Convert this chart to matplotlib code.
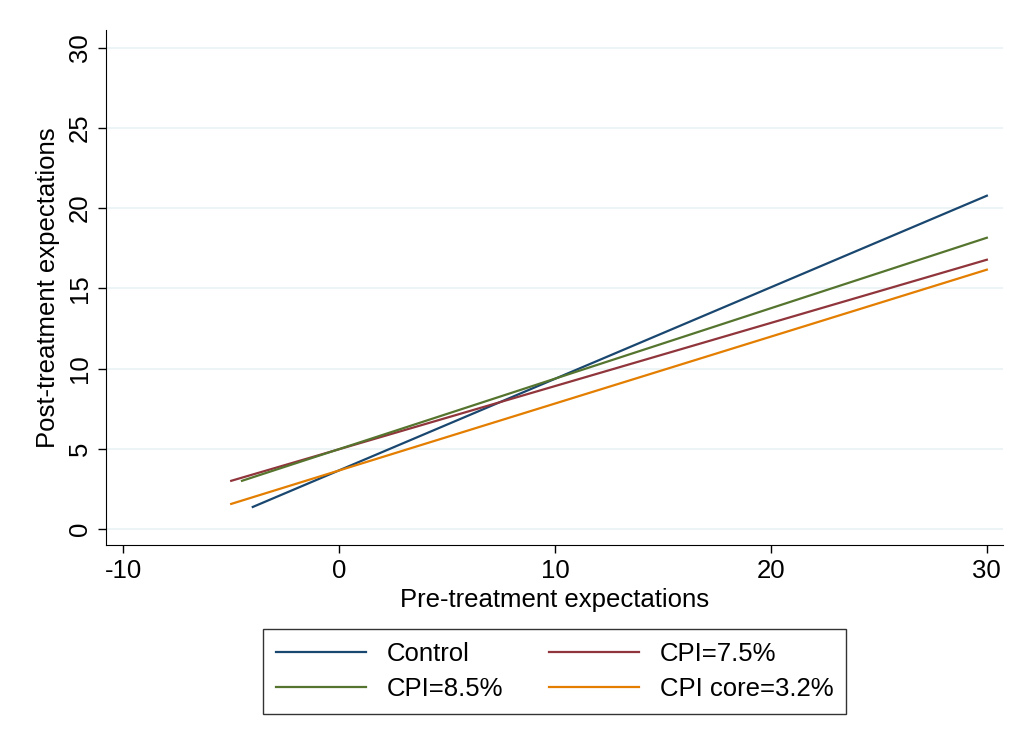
import matplotlib.pyplot as plt
import numpy as np

plt.rcParams['font.family'] = ['Liberation Sans', 'DejaVu Sans']
plt.rcParams['axes.unicode_minus'] = False

# fitted lines: (x start, x end) and (y start, y end)
series = ['Control', 'CPI=7.5%', 'CPI=8.5%', 'CPI core=3.2%']
x_start = [-4.0, -5.0, -4.5, -5.0]
x_end = [30, 30, 30, 30]
y_start = [1.37, 3.0, 3.0, 1.56]
y_end = [20.77, 16.78, 18.15, 16.16]
colors = ['#1a476f', '#90353b', '#55752f', '#e37e00']

xticks = [-10, 0, 10, 20, 30]
yticks = [0, 5, 10, 15, 20, 25, 30]

fig = plt.figure(figsize=(10.18, 7.44), dpi=100)
ax = fig.add_axes([0.1041, 0.2675, 0.8812, 0.6922])

handles = []
for i in range(len(series)):
    h, = ax.plot([x_start[i], x_end[i]], [y_start[i], y_end[i]],
                 color=colors[i], linewidth=1.6, label=series[i])
    handles.append(h)

ax.set_xlim(-10.8, 30.75)
ax.set_ylim(-1.0, 31.1)
ax.set_xticks(xticks)
ax.set_yticks(yticks)
for y in yticks:
    ax.axhline(y, color='#eaf2f3', linewidth=1.2, zorder=0)

ax.spines['top'].set_visible(False)
ax.spines['right'].set_visible(False)
ax.tick_params(direction='out', length=6, width=1, labelsize=18.5, pad=4)
plt.setp(ax.get_yticklabels(), rotation=90, va='center')

ax.set_xlabel('Pre-treatment expectations', fontsize=18.5, labelpad=4)
ax.set_ylabel('Post-treatment expectations', fontsize=18.5, labelpad=6)

# legend order: Control, CPI=7.5% / CPI=8.5%, CPI core=3.2% (row-wise)
order = [0, 2, 1, 3]
leg = fig.legend([handles[k] for k in order], [series[k] for k in order],
                 ncol=2, loc='upper center', bbox_to_anchor=(0.5447, 0.1546),
                 borderaxespad=0, fontsize=18.5, frameon=True, fancybox=False,
                 edgecolor='black', handlelength=3.5, handletextpad=0.8,
                 columnspacing=1.8, borderpad=0.5, labelspacing=0.45)
leg.get_frame().set_linewidth(1.0)

fig.savefig('out.png', dpi=100, facecolor='white')
